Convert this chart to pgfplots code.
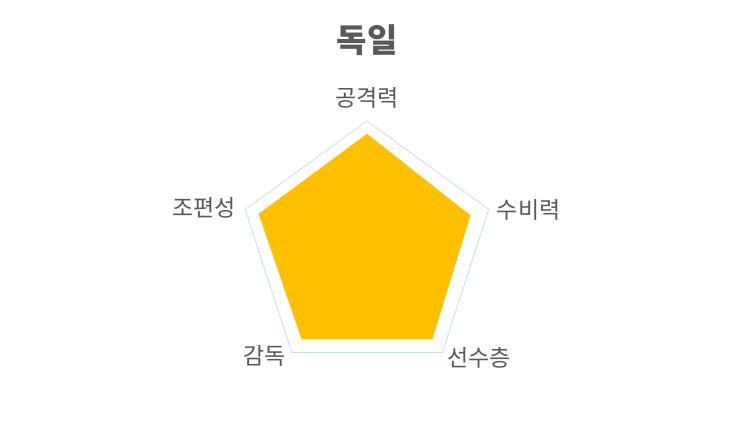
\documentclass[border=0pt]{standalone}
\usepackage{fontspec}
\usepackage{pgfplots}
\pgfplotsset{compat=1.18}
\usepgfplotslibrary{polar}
\setmainfont{Noto Sans CJK KR}
\definecolor{labelgray}{HTML}{595959}
\definecolor{gridblue}{HTML}{C9DDEB}
\definecolor{gold}{HTML}{FFC000}
\tikzset{cat/.style={text=labelgray,font=\fontsize{23}{27}\selectfont,inner sep=0pt}}

\begin{document}
\begin{tikzpicture}[x=1pt,y=1pt]
\path[fill=white,use as bounding box] (0,0) rectangle (734,432);
\node[text=labelgray,font=\fontsize{33}{38}\selectfont\bfseries] at (367,392) {독일};
\begin{polaraxis}[
  at={(367pt,183pt)}, anchor=origin,
  scale only axis, width=256pt, height=256pt,
  ymin=0, ymax=100,
  xmin=0, xmax=360,
  axis line style={draw=none},
  grid=none,
  ytick=\empty, xtick=\empty,
  clip=false,
]
% outer frame at the axis maximum
\addplot[gridblue, line width=0.8pt] coordinates {
(90,100) (18,100) (306,100) (234,100) (162,100) (90,100)
};
% Germany
\addplot[draw=none, fill=gold] coordinates {
(90,90) (18,85) (306,87) (234,87) (162,89) (90,90)
} \closedcycle;
% category labels
\node[cat,anchor=south] at ([yshift=12pt]axis cs:90,100) {공격력};
\node[cat,anchor=west]  at ([xshift=8pt]axis cs:18,100) {수비력};
\node[cat,anchor=west]  at ([xshift=5pt,yshift=-5pt]axis cs:306,100) {선수층};
\node[cat,anchor=east]  at ([xshift=-6pt,yshift=-3pt]axis cs:234,100) {감독};
\node[cat,anchor=east]  at ([xshift=-9pt,yshift=2pt]axis cs:162,100) {조편성};
\end{polaraxis}
\end{tikzpicture}
\end{document}
